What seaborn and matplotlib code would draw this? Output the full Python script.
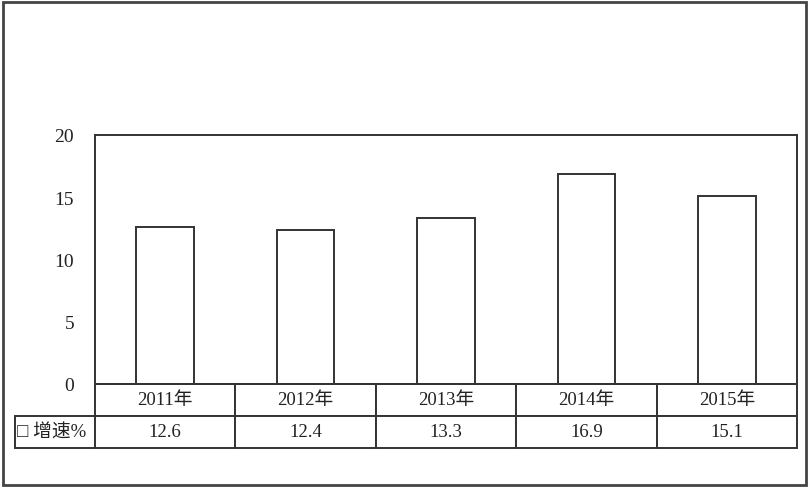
import matplotlib
matplotlib.use("Agg")
import matplotlib.pyplot as plt
import seaborn as sns
from matplotlib.patches import Rectangle

sns.set_style("white")
plt.rcParams["font.family"] = ["Liberation Serif", "Noto Sans CJK SC", "DejaVu Sans"]

years = ["2011年", "2012年", "2013年", "2014年", "2015年"]
growth = [12.6, 12.4, 13.3, 16.9, 15.1]
row_label = "□ 增速%"
yticks = [0, 5, 10, 15, 20]

edge = "#333333"

fig = plt.figure(figsize=(8.11, 4.89), dpi=100)
ax = fig.add_axes([95 / 811, 1 - 385 / 489, 702 / 811, 249 / 489])

sns.barplot(x=years, y=growth, color="white", edgecolor=edge, linewidth=1.4,
            width=0.41, saturation=1, ax=ax)

ax.set_ylim(0, 20)
ax.set_xlim(-0.5, len(years) - 0.5)
ax.set_yticks(yticks)
ax.set_yticklabels([str(t) for t in yticks], fontsize=14, color="#222222")
ax.set_xticks([])
ax.set_xlabel("")
ax.set_ylabel("")
ax.tick_params(axis="y", direction="in", length=5, width=1.3, color=edge, pad=15)
for s in ax.spines.values():
    s.set_visible(True)
    s.set_color(edge)
    s.set_linewidth(1.4)

# data table under the axis, first column holds the row label
h = 64 / 249
lw = 80 / 702
col_w = 1 / len(years)
tbl = ax.table(cellText=[[row_label] + [f"{v:.1f}" for v in growth]],
               colLabels=[""] + years, cellLoc="center",
               colWidths=[lw] + [col_w] * len(years),
               bbox=[-lw, -h, 1 + lw, h])
tbl.auto_set_font_size(False)
for (r, c), cell in tbl.get_celld().items():
    cell.set_edgecolor(edge)
    cell.set_linewidth(1.4)
    cell.get_text().set_fontsize(13.5)
    cell.get_text().set_color("#222222")
    if c == 0:
        if r == 0:
            cell.set_visible(False)
        else:
            cell.get_text().set_ha("left")
            cell._loc = "left"
            cell.PAD = 0.02

# outer frame
fig.patches.append(Rectangle((3 / 811, 3 / 489), 803 / 811, 483 / 489,
                             transform=fig.transFigure, fill=False,
                             edgecolor="#444444", linewidth=2))

fig.savefig("out.png", dpi=100)
